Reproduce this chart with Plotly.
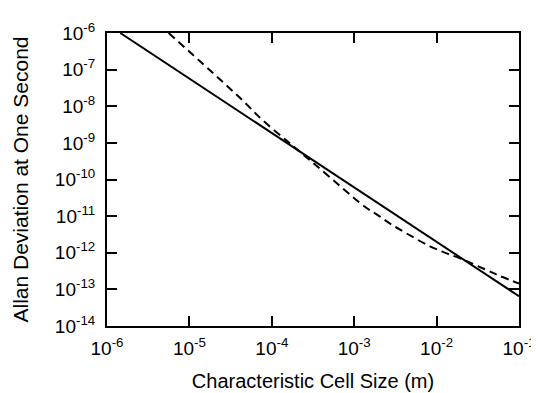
import plotly.graph_objects as go

# Solid curve (power law), read at its visible end points
solid_x = [1.45e-6, 1.0e-1]
solid_y = [1.0e-6, 6.5e-14]

# Dashed curve
dashed_x = [5.6e-6, 4.1e-5, 7.8e-5, 1.55e-4, 2.3e-4, 3.4e-4, 6.8e-4, 1.35e-3,
            1.95e-3, 2.8e-3, 4.5e-3, 8.3e-3, 1.3e-2, 2.0e-2, 3.8e-2, 5.9e-2, 1.0e-1]
dashed_y = [1.0e-6, 1.7e-8, 4.1e-9, 1.1e-9, 5.2e-10, 2.5e-10, 6.5e-11, 1.8e-11,
            1.05e-11, 6.0e-12, 3.2e-12, 1.5e-12, 9.8e-13, 6.8e-13, 3.6e-13, 2.3e-13, 1.45e-13]

x_exps = [-6, -5, -4, -3, -2, -1]
y_exps = [-14, -13, -12, -11, -10, -9, -8, -7, -6]

x_tickvals = [10.0 ** e for e in x_exps]
x_ticktext = [f"10<sup>{e}</sup>" for e in x_exps]
y_tickvals = [10.0 ** e for e in y_exps]
y_ticktext = [f"10<sup>{e}</sup>" for e in y_exps]

FONT = "Liberation Sans, Arial, sans-serif"

fig = go.Figure()
fig.add_trace(go.Scatter(x=solid_x, y=solid_y, mode="lines",
                         line=dict(color="black", width=2), showlegend=False))
fig.add_trace(go.Scatter(x=dashed_x, y=dashed_y, mode="lines", line_shape="spline",
                         line=dict(color="black", width=2, dash="8px,5px"), showlegend=False))

axis_common = dict(
    showline=True, linecolor="black", linewidth=2, mirror="ticks",
    ticks="inside", ticklen=10, tickwidth=2, tickcolor="black",
    showgrid=False, zeroline=False,
    tickfont=dict(family=FONT, size=19, color="black"),
)

fig.update_xaxes(type="log", range=[-6, -1], tickvals=x_tickvals, ticktext=x_ticktext,
                 ticklabelstandoff=4,
                 title=dict(text="Characteristic Cell Size (m)", standoff=16,
                            font=dict(family=FONT, size=20, color="black")),
                 **axis_common)
fig.update_yaxes(type="log", range=[-14, -6], tickvals=y_tickvals, ticktext=y_ticktext,
                 ticklabelstandoff=6,
                 title=dict(text="Allan Deviation at One Second", standoff=20,
                            font=dict(family=FONT, size=21, color="black")),
                 **axis_common)

fig.update_layout(
    width=539, height=393,
    margin=dict(l=96, r=17, t=23, b=72),
    paper_bgcolor="white", plot_bgcolor="white",
)

fig.write_html("out.html")
